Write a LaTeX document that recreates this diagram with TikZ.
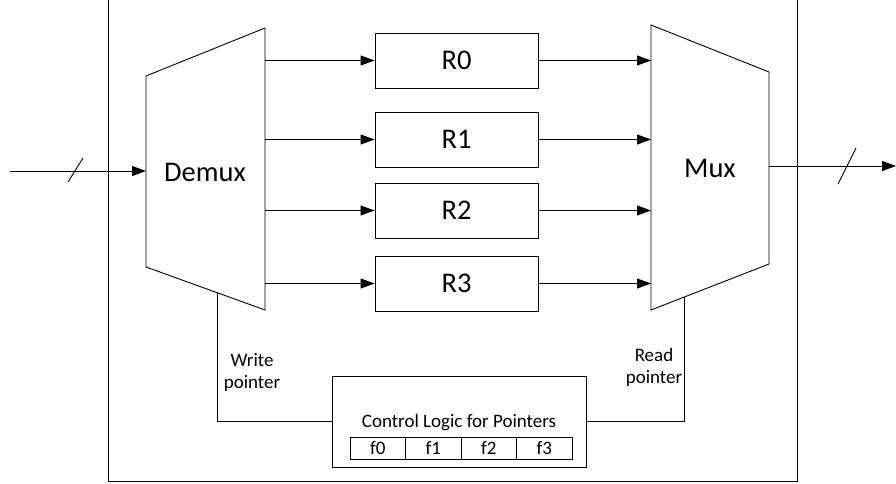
\documentclass[tikz,border=0pt]{standalone}
\usepackage{fontspec}
\setmainfont{Carlito}
\usetikzlibrary{arrows.meta,calc}
\begin{document}
\begin{tikzpicture}[x=1pt,y=-1pt,line width=0.9pt,
  arr/.style={-{Triangle[length=14pt,width=10pt]}},
  bigtxt/.style={font=\fontsize{28.5}{34}\selectfont},
  smalltxt/.style={font=\fontsize{19}{22}\selectfont, align=center},
  regbox/.style={draw, minimum width=163pt, minimum height=55pt, inner sep=0pt, bigtxt},
  cell/.style={draw, minimum width=55.5pt, minimum height=22pt, inner sep=0pt, font=\fontsize{19}{22}\selectfont}]
\useasboundingbox (0,0) rectangle (896,484);
\clip (0,0) rectangle (896,484);
% outer frame
\draw (108,-10) rectangle (797,481);
% demux
\coordinate (dTL) at (146,76);
\coordinate (dBL) at (146,267);
\coordinate (dTR) at (265,28);
\coordinate (dBR) at (265,310);
\draw (dTL) -- (dTR) -- (dBR) -- (dBL) -- cycle;
\node[bigtxt] (demux) at (205,172) {Demux};
% mux
\coordinate (mTL) at (651,25);
\coordinate (mBL) at (651,310);
\coordinate (mTR) at (769,72);
\coordinate (mBR) at (769,264);
\draw (mTL) -- (mTR) -- (mBR) -- (mBL) -- cycle;
\node[bigtxt] (mux) at (710,168) {Mux};
% registers
\node[regbox] (R0) at (456.5,60.5) {R0};
\node[regbox] (R1) at (456.5,139.5) {R1};
\node[regbox] (R2) at (456.5,210.5) {R2};
\node[regbox] (R3) at (456.5,283.5) {R3};
\foreach \r in {R0,R1,R2,R3}{
  \draw[arr] (dTR |- \r.west) -- (\r.west);
  \draw[arr] (\r.east) -- (mTL |- \r.east);
}
% input / output
\coordinate (in) at (10,171);
\draw[arr] (in) -- (dTL |- in);
\draw (68,182) -- (83,158);
\coordinate (mout) at (769,166);
\coordinate (out) at (896,166);
\draw[arr] (mout) -- (out);
\draw (838,184) -- (856,148);
% control logic
\node[draw, minimum width=254pt, minimum height=91pt, inner sep=0pt] (ctrl) at (459,421.5) {};
\node[font=\fontsize{19}{22}\selectfont] (ctrltxt) at (459,423) {Control Logic for Pointers};
\node[cell] (f0) at (377.75,448) {f0};
\node[cell] (f1) at (433.25,448) {f1};
\node[cell] (f2) at (488.75,448) {f2};
\node[cell] (f3) at (544.25,448) {f3};
% pointers
\coordinate (wp) at ($(dBL)!0.597!(dBR)$);
\coordinate (rp) at ($(mBL)!0.28!(mBR)$);
\draw (wp) |- (ctrl.west);
\draw (rp) |- (ctrl.east);
\node[smalltxt] (wlab) at (252,372) {Write\\pointer};
\node[smalltxt] (rlab) at (654,367) {Read\\pointer};
\end{tikzpicture}
\end{document}
